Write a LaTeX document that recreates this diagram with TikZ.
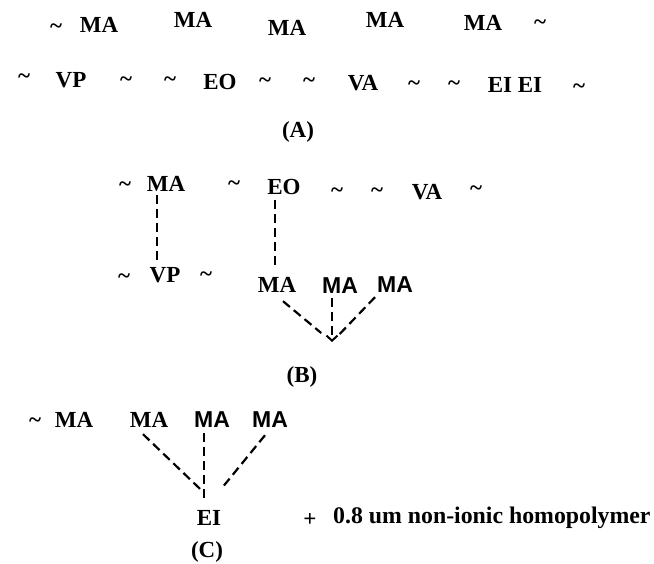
\documentclass[tikz,border=0pt]{standalone}
\usepackage{fontspec}
\setmainfont{Liberation Serif}
\newfontfamily\arialfam{Liberation Sans}
\usetikzlibrary{arrows.meta,calc}
\begin{document}
\begin{tikzpicture}[x=1pt,y=-1pt,
  every node/.style={inner sep=0pt, anchor=base, font=\fontsize{23}{27}\selectfont\bfseries},
  sf/.style={font=\fontsize{23}{27}\selectfont\arialfam\bfseries},
  tl/.style={},
  dl/.style={dash pattern=on 9pt off 5pt, line width=2.2pt},
  tipstyle/.style={-{Straight Barb[length=5pt,width=11pt,line width=2pt]}}
]
\useasboundingbox (0,0) rectangle (654,564);
% ---------- (A) ----------
\node[tl] (a1) at (56,34) {\textasciitilde};
\node (maA1) at (99,33) {MA};
\node (maA2) at (193,28) {MA};
\node (maA3) at (287,36) {MA};
\node (maA4) at (385,28) {MA};
\node (maA5) at (483,31) {MA};
\node[tl] (a2) at (540,30) {\textasciitilde};
\node[tl] (a3) at (24,84) {\textasciitilde};
\node (vpA) at (71,88) {VP};
\node[tl] (a4) at (126,87) {\textasciitilde};
\node[tl] (a5) at (170,87) {\textasciitilde};
\node (eoA) at (220,90) {EO};
\node[tl] (a6) at (265,88) {\textasciitilde};
\node[tl] (a7) at (309,88) {\textasciitilde};
\node (vaA) at (363,91) {VA};
\node[tl] (a8) at (414,91) {\textasciitilde};
\node[tl] (a9) at (454,91) {\textasciitilde};
\node (eiA) at (515,93) {EI EI};
\node[tl] (a10) at (579,94) {\textasciitilde};
\node (labA) at (298,138) {(A)};
% ---------- (B) ----------
\node[tl] (b1) at (125,192) {\textasciitilde};
\node (maB) at (166,192) {MA};
\node[tl] (b2) at (234,191) {\textasciitilde};
\node (eoB) at (284,195) {EO};
\node[tl] (b3) at (337,198) {\textasciitilde};
\node[tl] (b4) at (377,198) {\textasciitilde};
\node (vaB) at (427,200) {VA};
\node[tl] (b5) at (476,196) {\textasciitilde};
\node[tl] (b6) at (124,284) {\textasciitilde};
\node (vpB) at (165,283) {VP};
\node[tl] (b7) at (206,282) {\textasciitilde};
\node (mab1) at (277,293) {MA};
\node[sf] (mab2) at (340,294) {MA};
\node[sf] (mab3) at (395,293) {MA};
\coordinate (tipB) at (332,342);
\node (labB) at (302,382) {(B)};
\draw[dl] ($(maB.south)+(-9,3)$) -- ($(vpB.north)+(-8,-6)$);
\draw[dl] ($(eoB.south)+(-9,5)$) -- ($(mab1.north)+(-2,-11)$);
\draw[dl,tipstyle] ($(mab2.south)+(-8,4)$) -- (tipB);
\draw[dl,shorten >=14pt] ($(mab1.south)+(6,8)$) -- (tipB);
\draw[dl,shorten >=11pt] ($(mab3.south)+(-20,4)$) -- (tipB);
% ---------- (C) ----------
\node[tl] (c1) at (35,427) {\textasciitilde};
\node (mac1) at (74,427) {MA};
\node (mac2) at (149,428) {MA};
\node[sf] (mac3) at (212,428) {MA};
\node[sf] (mac4) at (270,428) {MA};
\node (eiC) at (209,525) {EI};
\node (labC) at (207,557) {(C)};
\node (plus) at (310,526) {+};
\node[anchor=base west,font=\fontsize{23.8}{28}\selectfont\bfseries] (homo) at (333,523) {0.8 um non-ionic homopolymer};
\draw[dl] ($(mac3.south)+(-8,5)$) -- ($(eiC.north)+(-5,-10)$);
\draw[dl] ($(mac2.south)+(-6,6)$) -- ($(eiC.north)+(-6,-18)$);
\draw[dl] ($(mac4.south)+(-5,7)$) -- ($(eiC.north)+(14,-23)$);
\end{tikzpicture}
\end{document}
